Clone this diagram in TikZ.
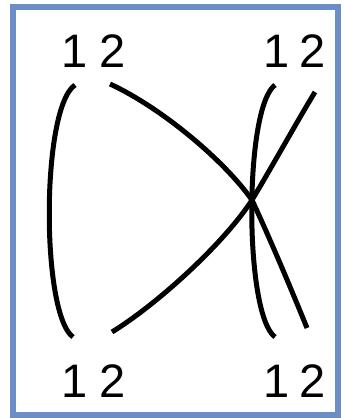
\documentclass[tikz,border=0pt]{standalone}
\usepackage{fontspec}
\setmainfont{Liberation Sans}
\definecolor{frameblue}{RGB}{108,142,199}
\begin{document}
\begin{tikzpicture}[x=1pt,y=-1pt,
  lbl/.style={anchor=base,inner sep=0pt,font=\fontsize{47}{56}\selectfont},
  strand/.style={line width=5pt,black}]
\useasboundingbox (0,0) rectangle (344,418);
\draw[frameblue,line width=5.5pt] (13,7) rectangle (338,415);
% labels
\node[lbl] (tl1) at (74.2,67) {1};
\node[lbl] (tl2) at (113,67) {2};
\node[lbl] (tr1) at (276.7,67) {1};
\node[lbl] (tr2) at (313,67) {2};
\node[lbl] (bl1) at (74.2,397) {1};
\node[lbl] (bl2) at (113,397) {2};
\node[lbl] (br1) at (276.7,397) {1};
\node[lbl] (br2) at (313,397) {2};
% strand end points
\coordinate (L1t) at (75,85);
\coordinate (L2t) at (110,84);
\coordinate (R1t) at (275,85);
\coordinate (R2t) at (315,92);
\coordinate (L1b) at (73,337);
\coordinate (L2b) at (112,332);
\coordinate (R1b) at (275,337);
\coordinate (R2b) at (307,328);
\coordinate (X) at (252,200);
% strands
\draw[strand] (L1t) .. controls (41,108) and (41,314) .. (L1b);
\draw[strand] (R1t) .. controls (244,108) and (244,314) .. (R1b);
\draw[strand] (L2t) .. controls (160,107) and (223,159) .. (X)
                    .. controls (271,241) and (292,291) .. (R2b);
\draw[strand] (L2b) .. controls (159,303) and (225,242) .. (X)
                    .. controls (273,165) and (295,125) .. (R2t);
\end{tikzpicture}
\end{document}
